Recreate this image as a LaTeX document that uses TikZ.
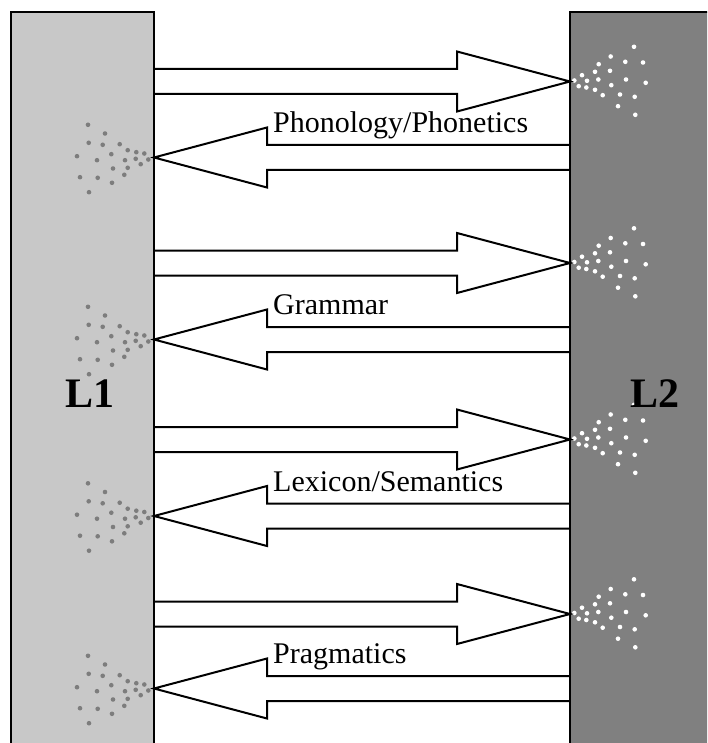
\documentclass[tikz,border=0pt]{standalone}
\usepackage{fontspec}
\setmainfont{Liberation Serif}
\usetikzlibrary{calc}
\tikzset{
  arr/.style={draw=black, fill=white, line width=2pt, line join=miter},
  boxL/.style={fill={rgb,255:red,200;green,200;blue,200}},
  boxR/.style={fill={rgb,255:red,128;green,128;blue,128}},
  edge/.style={draw=black, line width=2pt},
  dotL/.style={fill={rgb,255:red,125;green,125;blue,125}},
  dotR/.style={fill=white},
  lab/.style={font=\fontsize{30}{34}\selectfont, anchor=base west, inner sep=0pt},
  big/.style={font=\fontsize{42}{45}\selectfont\bfseries, inner sep=0pt}
}
\newcommand\sprayL[1]{%
  \foreach \dx/\dy in {-66/-32.7,-49/-24,-65.3/-14.7,-51.3/-12.7,-34.3/-13.3,-26.3/-7.3,-17.7/-5.3,-9.7/-4,-77/-1.3,-42.7/-3.3,-18.3/1.3,-5.7/2,-57/2.7,-29/2.7,-13.3/6.7,-41/11,-26.3/10.3,-74/19.7,-56.3/20.3,-29.7/17.3,-42/25.3,-65/34.7}
    \fill[dotL] ($(#1)+(\dx,\dy)$) circle (2.3pt);}
\newcommand\sprayR[1]{%
  \foreach \dx/\dy in {64/-34.7,40.7/-25,55.3/-19.7,73/-19,28.7/-17.3,25/-9.7,40/-10.7,12/-6.3,4.3/-1,17/-0.7,28.3/-2,56/-2,75.7/1.3,8.7/4.7,16.3/6,41.3/3.7,25/8.3,32.7/13.7,50/13,64.7/15.3,48/24.7,65.3/33.3}
    \fill[dotR] ($(#1)+(\dx,\dy)$) circle (2.3pt);}
\begin{document}
\begin{tikzpicture}[x=1pt,y=-1pt]
\useasboundingbox (0,0) rectangle (707,743);
\clip (0,0) rectangle (707,743);
% box fills
\fill[boxL] (11,12) rectangle (154,760);
\fill[boxR] (570,12) rectangle (730,760);
% tips
\foreach \n/\y in {r1/81.5,r2/263,r3/439.5,r4/614}{
  \coordinate (\n tip) at (570,\y);
}
\foreach \n/\y in {l1/157.5,l2/339.5,l3/516,l4/688.5}{
  \coordinate (\n tip) at (154,\y);
}
\sprayR{r1tip}\sprayR{r2tip}\sprayR{r3tip}\sprayR{r4tip}
\sprayL{l1tip}\sprayL{l2tip}\sprayL{l3tip}\sprayL{l4tip}
% right arrows
\foreach \n in {r1,r2,r3,r4}{
  \draw[arr] ($(\n tip)+(-416,-12.5)$) -- ($(\n tip)+(-113,-12.5)$) -- ($(\n tip)+(-113,-30)$)
    -- (\n tip) -- ($(\n tip)+(-113,30)$) -- ($(\n tip)+(-113,12.5)$) -- ($(\n tip)+(-416,12.5)$);
}
% left arrows
\foreach \n in {l1,l2,l3,l4}{
  \draw[arr] ($(\n tip)+(416,-12.5)$) -- ($(\n tip)+(113,-12.5)$) -- ($(\n tip)+(113,-30)$)
    -- (\n tip) -- ($(\n tip)+(113,30)$) -- ($(\n tip)+(113,12.5)$) -- ($(\n tip)+(416,12.5)$);
}
% box outlines
\draw[edge] (11,12) rectangle (154,760);
\draw[edge] (570,12) rectangle (730,760);
\node[big] (L1) at (90,394) {L1};
\node[big] (L2) at (655,394) {L2};
% labels
\node[lab] (t1) at ($(l1tip)+(119,-25)$) {Phonology/Phonetics};
\node[lab] (t2) at ($(l2tip)+(119,-25)$) {Grammar};
\node[lab] (t3) at ($(l3tip)+(119,-25)$) {Lexicon/Semantics};
\node[lab] (t4) at ($(l4tip)+(119,-25)$) {Pragmatics};
\end{tikzpicture}
\end{document}
